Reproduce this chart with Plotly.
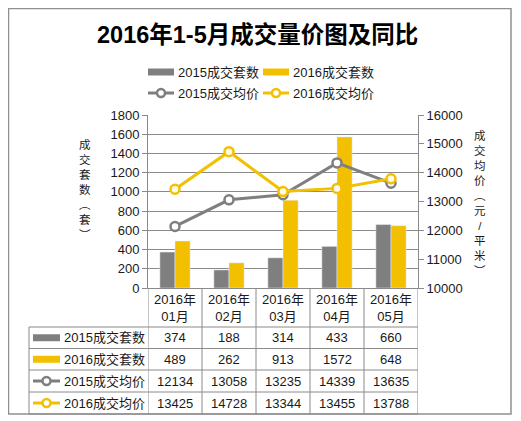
import plotly.graph_objects as go

W, H = 521, 421
OFF = 8  # page body margin shifts the figure by 8px on screen

months = ["2016年<br>01月", "2016年<br>02月", "2016年<br>03月", "2016年<br>04月", "2016年<br>05月"]
series_names = ["2015成交套数", "2016成交套数", "2015成交均价", "2016成交均价"]
count_2015 = [374, 188, 314, 433, 660]
count_2016 = [489, 262, 913, 1572, 648]
price_2015 = [12134, 13058, 13235, 14339, 13635]
price_2016 = [13425, 14728, 13344, 13455, 13788]

GRAY = "#7f7f7f"
YELLOW = "#f2c000"
LINE = "#8a8a8a"
TXT = "#1a1a1a"
FONT = "Arial, 'Noto Sans CJK SC', sans-serif"


def px(x):
    return (x - OFF) / W


def py(y):
    return 1 - (y - OFF) / H


def label(text, x, y, size=13, xref="paper", xanchor="center", **font_kw):
    # paper annotations default to edge anchoring, so pin them to the middle
    return dict(text=text, x=x, y=y, xref=xref, yref="paper", showarrow=False,
                xanchor=xanchor, yanchor="middle",
                font=dict(size=size, family=FONT, color=font_kw.pop("color", TXT), **font_kw))


xs = list(range(len(months)))

fig = go.Figure()
fig.add_trace(go.Bar(x=xs, y=count_2015, name=series_names[0], marker_color=GRAY))
fig.add_trace(go.Bar(x=xs, y=count_2016, name=series_names[1], marker_color=YELLOW))
fig.add_trace(go.Scatter(
    x=xs, y=price_2015, name=series_names[2], yaxis="y2", mode="lines+markers",
    line=dict(color=GRAY, width=3),
    marker=dict(size=9, color="white", line=dict(color=GRAY, width=2.5)),
))
fig.add_trace(go.Scatter(
    x=xs, y=price_2016, name=series_names[3], yaxis="y2", mode="lines+markers",
    line=dict(color=YELLOW, width=3),
    marker=dict(size=9, color="#fffbe8", line=dict(color=YELLOW, width=2.5)),
))

shapes = []
annotations = []

# outer frame
shapes.append(dict(type="rect", xref="paper", yref="paper", x0=px(8.5), x1=px(511),
                   y0=py(414), y1=py(8.5), line=dict(color="#909090", width=1.5)))

# title
annotations.append(label("2016年1-5月成交量价图及同比", px(257), py(35), size=23.5,
                         color="black", weight="bold"))


def icon(kind, color, x0, x1, yc):
    # legend-style key: bar swatch or line with hollow marker
    if kind == "bar":
        shapes.append(dict(type="rect", xref="paper", yref="paper", x0=px(x0), x1=px(x1),
                           y0=py(yc + 3.5), y1=py(yc - 3.5), fillcolor=color, line_width=0))
    else:
        shapes.append(dict(type="line", xref="paper", yref="paper", x0=px(x0), x1=px(x1),
                           y0=py(yc), y1=py(yc), line=dict(color=color, width=3)))
        shapes.append(dict(type="circle", xref="paper", yref="paper", xsizemode="pixel",
                           ysizemode="pixel", xanchor=px((x0 + x1) / 2), yanchor=py(yc),
                           x0=-4, x1=4, y0=-4, y1=4, fillcolor="white",
                           line=dict(color=color, width=2.5)))


kinds = ["bar", "bar", "line", "line"]
colors = [GRAY, YELLOW, GRAY, YELLOW]

# top legend (2 x 2)
legend_pos = [(148, 72), (263, 72), (148, 93), (263, 93)]
for name, kind, color, (lx, ly) in zip(series_names, kinds, colors, legend_pos):
    icon(kind, color, lx, lx + 26, ly)
    annotations.append(label(name, px(lx + 28), py(ly), xanchor="left"))

# axis titles (vertical text)
annotations.append(label("<br>".join("成交套数︵套︶"), px(85), py(190), size=11.5))
annotations.append(label("<br>".join("成交均价︵元/平米︶"), px(480), py(203), size=11.5))

# data table under the plot
plot_top = 115
plot_bottom = 288
row_edges = [327, 348.5, 370, 392, 414]
table_left = 29

for i, m in enumerate(months):
    annotations.append(label(m, i, py(307.5), xref="x"))

for ye in row_edges:
    shapes.append(dict(type="line", xref="paper", yref="paper", x0=px(table_left), x1=px(418),
                       y0=py(ye), y1=py(ye), line=dict(color=LINE, width=1)))
shapes.append(dict(type="line", xref="paper", yref="paper", x0=px(table_left), x1=px(table_left),
                   y0=py(row_edges[0]), y1=py(row_edges[-1]), line=dict(color=LINE, width=1)))
for b in [i - 0.5 for i in range(len(months) + 1)]:
    shapes.append(dict(type="line", xref="x", yref="paper", x0=b, x1=b,
                       y0=py(plot_bottom), y1=py(row_edges[-1]), line=dict(color=LINE, width=1)))

table_rows = [count_2015, count_2016, price_2015, price_2016]
for r, (name, kind, color, vals) in enumerate(zip(series_names, kinds, colors, table_rows)):
    yc = (row_edges[r] + row_edges[r + 1]) / 2
    icon(kind, color, 33, 60, yc)
    annotations.append(label(name, px(62), py(yc), xanchor="left"))
    for i, v in enumerate(vals):
        annotations.append(label(str(v), i, py(yc), xref="x"))

fig.update_layout(
    width=W, height=H,
    margin=dict(l=0, r=0, t=0, b=0, autoexpand=False),
    paper_bgcolor="white", plot_bgcolor="white",
    showlegend=False,
    barmode="group", bargap=0.44, bargroupgap=0,
    font=dict(family=FONT, size=13, color=TXT),
    xaxis=dict(domain=[px(148), px(418)], range=[-0.5, 4.5], showticklabels=False,
               showgrid=False, zeroline=False, showline=True, linecolor=LINE, ticks=""),
    yaxis=dict(domain=[py(plot_bottom), py(plot_top)], range=[0, 1800], dtick=200,
               showgrid=True, gridcolor=LINE, gridwidth=1, zeroline=False,
               showline=True, linecolor=LINE, ticks="outside", ticklen=5, tickcolor=LINE,
               tickfont=dict(size=13, color=TXT)),
    yaxis2=dict(overlaying="y", side="right", range=[10000, 16000], dtick=1000,
                tickformat="d", showgrid=False, zeroline=False, showline=True,
                linecolor=LINE, ticks="outside", ticklen=5, tickcolor=LINE,
                tickfont=dict(size=13, color=TXT)),
    shapes=shapes,
    annotations=annotations,
)

fig.write_html("out.html")
